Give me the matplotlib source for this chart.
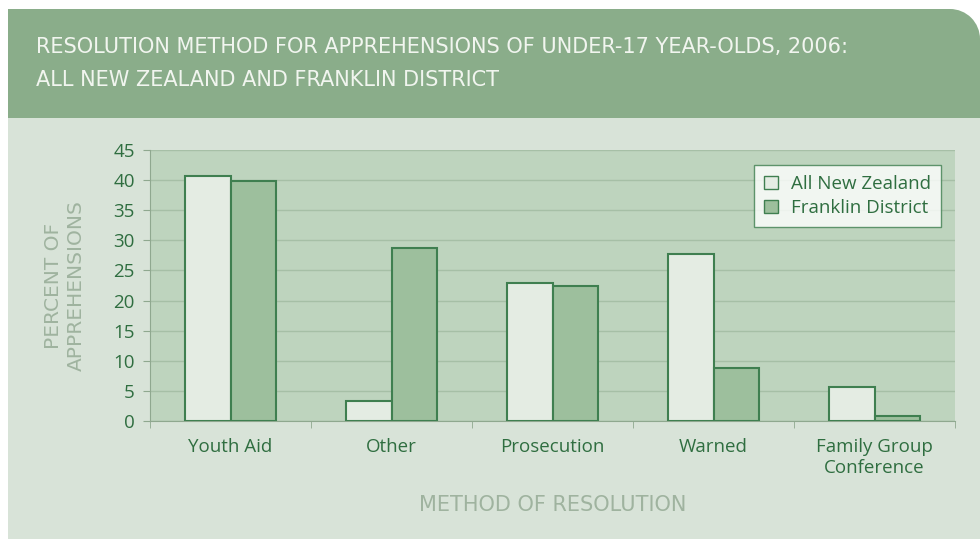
import numpy as np
import matplotlib
matplotlib.use("Agg")
from matplotlib import pyplot as plt
from matplotlib.patches import Rectangle, Wedge, Patch

plt.rcParams["font.family"] = ["Open Sans", "DejaVu Sans"]

categories = ["Youth Aid", "Other", "Prosecution", "Warned", "Family Group\nConference"]
all_nz = [40.7, 3.4, 22.9, 27.8, 5.6]
franklin = [39.8, 28.7, 22.4, 8.8, 0.8]
yticks = [0, 5, 10, 15, 20, 25, 30, 35, 40, 45]

header_col = "#8aad8a"
panel_col = "#d8e3d8"
plot_col = "#bed4be"
nz_col = "#e4ece3"
fr_col = "#9dbf9d"
edge_col = "#3f7f50"
dark_txt = "#2f6e40"
light_txt = "#9fb39f"
grid_col = "#a6bfa6"

fig = plt.figure(figsize=(9.8, 5.39), dpi=100)

# background panel drawn in pixel coordinates
bg = fig.add_axes([0, 0, 1, 1], zorder=-1)
bg.set_xlim(0, 980)
bg.set_ylim(539, 0)
bg.axis("off")
bg.add_patch(Rectangle((8, 118), 972, 421, color=panel_col, lw=0))
bg.add_patch(Rectangle((8, 9), 942, 109, color=header_col, lw=0))
bg.add_patch(Rectangle((950, 39), 30, 79, color=header_col, lw=0))
bg.add_patch(Wedge((950, 39), 30, 270, 360, color=header_col, lw=0))
title_font = dict(color="#f1f5ef", fontsize=15, va="center", ha="left",
                  family="DejaVu Sans")
bg.text(36, 47, "RESOLUTION METHOD FOR APPREHENSIONS OF UNDER-17 YEAR-OLDS, 2006:", **title_font)
bg.text(36, 80, "ALL NEW ZEALAND AND FRANKLIN DISTRICT", **title_font)

ax = fig.add_axes([150 / 980, 118 / 539, 805 / 980, 271 / 539])
ax.set_facecolor(plot_col)

x = np.arange(len(categories))
w = 0.285
ax.bar(x - w / 2, all_nz, w, color=nz_col, edgecolor=edge_col, linewidth=1.5,
       label="All New Zealand", zorder=3)
ax.bar(x + w / 2, franklin, w, color=fr_col, edgecolor=edge_col, linewidth=1.5,
       label="Franklin District", zorder=3)

ax.set_xlim(-0.5, len(categories) - 0.5)
ax.set_ylim(0, 45)
ax.set_yticks(yticks)
ax.yaxis.grid(True, color=grid_col, linewidth=1)
ax.set_axisbelow(True)

ax.set_xticks(x)
ax.set_xticklabels(categories, linespacing=1.25)
ax.set_xticks(np.arange(-0.5, len(categories)), minor=True)
ax.tick_params(axis="x", which="major", length=0, pad=12, labelsize=13.5, labelcolor=dark_txt)
ax.tick_params(axis="x", which="minor", length=5, color="#8fa88f")
ax.tick_params(axis="y", length=5, color="#8fa88f", pad=6, labelsize=13.5, labelcolor=dark_txt)

for s in ["top", "right"]:
    ax.spines[s].set_visible(False)
for s in ["left", "bottom"]:
    ax.spines[s].set_color("#8fa88f")

ax.set_ylabel("PERCENT OF\nAPPREHENSIONS", color=light_txt, fontsize=14.5,
              family="DejaVu Sans", labelpad=20, linespacing=1.2)
ax.set_xlabel("METHOD OF RESOLUTION", color=light_txt, fontsize=15,
              family="DejaVu Sans", labelpad=13)

handles = [Patch(facecolor=nz_col, edgecolor=edge_col, linewidth=1),
           Patch(facecolor=fr_col, edgecolor=edge_col, linewidth=1)]
leg = ax.legend(handles, ["All New Zealand", "Franklin District"],
                loc="upper right", bbox_to_anchor=(0.9826, 0.945), borderaxespad=0,
                fontsize=13.5, frameon=True, fancybox=False, handlelength=0.7,
                handleheight=0.7, handletextpad=0.7, borderpad=0.55, labelspacing=0.3)
leg.get_frame().set_edgecolor(edge_col)
leg.get_frame().set_linewidth(1)
leg.get_frame().set_facecolor("white")
for t in leg.get_texts():
    t.set_color(dark_txt)

fig.savefig("out.png", dpi=100)
